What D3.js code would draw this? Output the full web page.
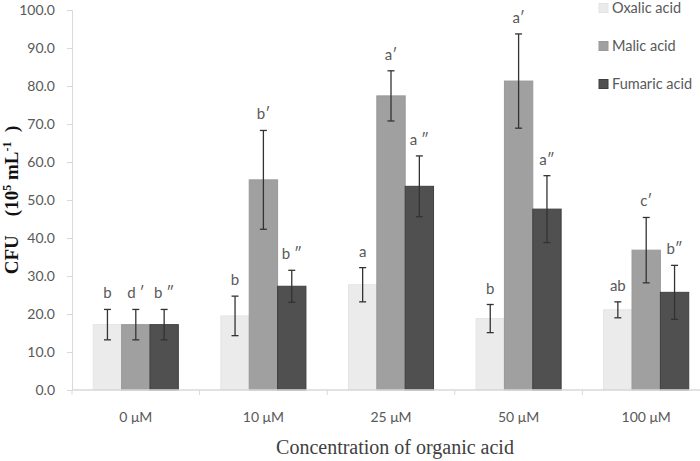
<!DOCTYPE html>
<html>
<head>
<meta charset="utf-8">
<script src="https://cdn.jsdelivr.net/npm/d3@7"></script>
<style>
  body { margin: 0; background: #fff; }
  svg { display: block; font-family: Lato, "Open Sans", sans-serif; }
</style>
</head>
<body>
<div id="chart"></div>
<script>
const categories = ["0 \u03bcM", "10 \u03bcM", "25 \u03bcM", "50 \u03bcM", "100 \u03bcM"]
const seriesNames = ["Oxalic acid", "Malic acid", "Fumaric acid"]
const oxalic = [17.2, 19.5, 27.7, 18.8, 21.1]
const malic = [17.2, 55.3, 77.4, 81.3, 36.8]
const fumaric = [17.2, 27.3, 53.6, 47.6, 25.7]
const oxalicErr = [4.0, 5.2, 4.5, 3.7, 2.1]
const malicErr = [4.0, 13.0, 6.6, 12.4, 8.6]
const fumaricErr = [4.0, 4.2, 8.0, 8.8, 7.1]
const oxalicLetters = ["b", "b", "a", "b", "ab"]
const malicLetters = ["d \u2032", "b\u2032", "a\u2032", "a\u2032", "c\u2032"]
const fumaricLetters = ["b \u2033", "b \u2033", "a \u2033", "a\u2033", "b\u2033"]
const yTicks = [0, 10, 20, 30, 40, 50, 60, 70, 80, 90, 100]

const colors = ["#ebebeb", "#a0a0a0", "#505050"]
const strokes = ["#e4e4e4", "#999999", "#3f3f3f"]

const W = 700, H = 461
const svg = d3.select("#chart").append("svg")
  .attr("width", W)
  .attr("height", H)

const x0 = d3.scaleBand().domain(categories).range([72, 710]).paddingInner(0).paddingOuter(0)
const x1 = d3.scaleBand().domain(seriesNames).range([0, x0.bandwidth()]).paddingOuter(0.75).paddingInner(0)
const y = d3.scaleLinear().domain([0, 100]).range([390, 10])

const vals = [oxalic, malic, fumaric]
const errs = [oxalicErr, malicErr, fumaricErr]
const letters = [oxalicLetters, malicLetters, fumaricLetters]

const rows = []
seriesNames.forEach((s, si) => {
  categories.forEach((c, ci) => {
    rows.push({ s, si, c, v: vals[si][ci], e: errs[si][ci], lab: letters[si][ci] })
  })
})

// y axis
const yAxis = svg.append("g")
  .attr("transform", "translate(72,0)")
  .call(d3.axisLeft(y).tickValues(yTicks).tickSize(5).tickPadding(12).tickFormat(d3.format(".1f")))
yAxis.select(".domain").attr("stroke", "#d9d9d9")
yAxis.selectAll(".tick line").attr("stroke", "#d9d9d9")
yAxis.selectAll(".tick text")
  .attr("fill", "#595959")
  .style("font-family", "Lato, 'Open Sans', sans-serif")
  .style("font-size", "14px")

// bars
const g = svg.append("g")
g.selectAll("rect")
  .data(rows)
  .join("rect")
  .attr("x", d => x0(d.c) + x1(d.s))
  .attr("y", d => y(d.v))
  .attr("width", x1.bandwidth())
  .attr("height", d => y(0) - y(d.v))
  .attr("fill", d => colors[d.si])
  .attr("stroke", d => strokes[d.si])
  .attr("stroke-width", 1)

// x axis
svg.append("line")
  .attr("x1", 72).attr("x2", 700)
  .attr("y1", y(0)).attr("y2", y(0))
  .attr("stroke", "#d9d9d9").attr("stroke-width", 1.5)
svg.append("g").selectAll("line")
  .data(categories)
  .join("line")
  .attr("x1", d => x0(d)).attr("x2", d => x0(d))
  .attr("y1", y(0)).attr("y2", y(0) + 5)
  .attr("stroke", "#d9d9d9")
svg.append("g").selectAll("text")
  .data(categories)
  .join("text")
  .attr("x", d => x0(d) + x0.bandwidth() / 2)
  .attr("y", 422)
  .attr("text-anchor", "middle")
  .attr("fill", "#595959")
  .style("font-size", "14px")
  .text(d => d)

// error bars
const eb = svg.append("g").attr("stroke", "#333").attr("stroke-width", 1.3)
rows.forEach(d => {
  const cx = x0(d.c) + x1(d.s) + x1.bandwidth() / 2
  const t = y(d.v + d.e), b = y(d.v - d.e)
  eb.append("line").attr("x1", cx).attr("x2", cx).attr("y1", t).attr("y2", b)
  eb.append("line").attr("x1", cx - 3.5).attr("x2", cx + 3.5).attr("y1", t).attr("y2", t)
  eb.append("line").attr("x1", cx - 3.5).attr("x2", cx + 3.5).attr("y1", b).attr("y2", b)
})

// significance letters
svg.append("g").selectAll("text")
  .data(rows)
  .join("text")
  .attr("x", d => x0(d.c) + x1(d.s) + x1.bandwidth() / 2)
  .attr("y", d => y(d.v + d.e) - 11)
  .attr("text-anchor", "middle")
  .attr("fill", "#595959")
  .style("font-size", "15px")
  .text(d => d.lab)

// legend
const leg = svg.append("g")
seriesNames.forEach((s, i) => {
  const ly = 8 + i * 38
  leg.append("rect")
    .attr("x", 599).attr("y", ly - 4.5)
    .attr("width", 9).attr("height", 9)
    .attr("fill", colors[i]).attr("stroke", strokes[i])
  leg.append("text")
    .attr("x", 612).attr("y", ly + 5)
    .attr("fill", "#595959")
    .style("font-size", "14.5px")
    .text(s)
})

// axis titles
svg.append("text")
  .attr("x", 395).attr("y", 454)
  .attr("text-anchor", "middle")
  .attr("fill", "#404040")
  .style("font-family", "'Liberation Serif', serif")
  .style("font-size", "20px")
  .text("Concentration of organic acid")

const yt = svg.append("text")
  .attr("transform", "translate(18,200) rotate(-90)")
  .attr("text-anchor", "middle")
  .attr("fill", "#111")
  .style("font-family", "'Liberation Serif', serif")
  .style("font-size", "19px")
  .style("font-weight", "bold")
  .attr("xml:space", "preserve")
yt.append("tspan").text("CFU\u2003(10")
yt.append("tspan").attr("dy", -7).style("font-size", "12px").text("5")
yt.append("tspan").attr("dy", 7).text(" mL")
yt.append("tspan").attr("dy", -7).style("font-size", "12px").text("-1")
yt.append("tspan").attr("dy", 7).text("\u2002)")
</script>
</body>
</html>
